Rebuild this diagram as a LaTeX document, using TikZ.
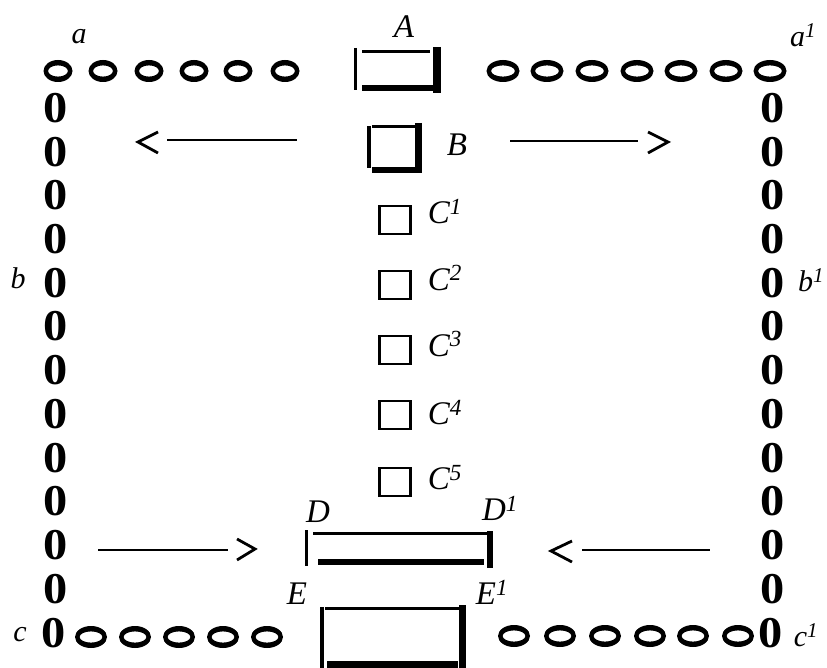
\documentclass[tikz,border=0pt]{standalone}
\usepackage{fontspec}
\setmainfont{Liberation Serif}
\newcommand\ovl[3]{\fill[even odd rule] (#1,#2) ellipse [x radius=#3, y radius=11] (#1,#2) ellipse [x radius=#3-4.6, y radius=5.6];}
\newcommand\zro{\scalebox{1.1}[1]{0}}
\begin{document}
\begin{tikzpicture}[x=1pt,y=-1pt,
  zero/.style={inner sep=0pt, font=\fontsize{44}{44}\selectfont\bfseries},
  lbl/.style={inner sep=0pt, font=\fontsize{33}{33}\selectfont\itshape},
  lbs/.style={inner sep=0pt, font=\fontsize{30}{30}\selectfont\itshape},
  thinbar/.style={line width=3pt},
  thickbar/.style={line width=6.5pt},
  arr/.style={line width=2.2pt},
  chev/.style={line width=2.8pt, line join=miter},
  sq/.style={draw, line width=2.6pt, minimum width=31pt, minimum height=28pt, inner sep=0pt}
]
\useasboundingbox (0,0) rectangle (827,668);

% columns of zeros
\foreach \i in {0,...,11} {
  \node[zero] (l\i) at (56,108+43.7*\i) {\zro};
  \node[zero] (r\i) at (773,108+43.7*\i) {\zro};
}
\node[zero] (lc) at (54,633) {\zro};
\node[zero] (rc) at (771,633) {\zro};

% rows of ovals
\foreach \x in {58,103,149,194,238,285} {\ovl{\x}{71}{14.5}}
\foreach \x in {503,547,592,637,681,726,770} {\ovl{\x}{71}{16.5}}
\foreach \x in {91,135,179,223,267} {\ovl{\x}{637}{16}}
\foreach \x in {514,560,605,650,693,738} {\ovl{\x}{636}{16}}

% corner labels
\node[lbs] (la) at (79,37) {a};
\node[lbs] (la1) at (803,35) {a\textsuperscript{1}};
\node[lbs] (lb) at (18,278) {b};
\node[lbs] (lb1) at (811,280) {b\textsuperscript{1}};
\node[lbs] (lcc) at (20,635) {c};
\node[lbs] (lc1) at (806,635) {c\textsuperscript{1}};

% A
\node[lbl] (tA) at (404,27) {A};
\draw[thinbar] (355,48) -- (355,90);
\draw[thinbar] (362,52) -- (430,52);
\draw[thickbar] (362,88) -- (433,88);
\draw[line width=7.5pt] (437,47) -- (437,93);

% B
\node[lbl] (tB) at (457,145) {B};
\draw[line width=4pt] (369,126) -- (369,168);
\draw[thinbar] (372,127) -- (415,127);
\draw[line width=7pt] (418,123) -- (418,173);
\draw[thickbar] (372,170) -- (416,170);

% C squares
\foreach \i/\y/\ly in {1/220/212,2/285/278,3/350/344,4/415/413,5/482/478} {
  \node[sq] (c\i) at (395,\y) {};
  \node[lbl] (tc\i) at (445,\ly) {C\textsuperscript{\i}};
}

% D
\node[lbl] (tD) at (318,512) {D};
\node[lbl] (tD1) at (500,508) {D\textsuperscript{1}};
\draw[thinbar] (306,530) -- (306,566);
\draw[thinbar] (313,533) -- (492,533);
\draw[thickbar] (318,562) -- (484,562);
\draw[line width=6pt] (490,531) -- (490,568);

% E
\node[lbl] (tE) at (297,594) {E};
\node[lbl] (tE1) at (492,592) {E\textsuperscript{1}};
\draw[line width=3.5pt] (322,607) -- (322,668);
\draw[thinbar] (325,608) -- (460,608);
\draw[line width=7pt] (462,605) -- (462,668);
\draw[line width=7pt] (327,664) -- (458,664);

% arrows
\draw[arr] (167,140) -- (297,140);
\draw[chev] (158,132) -- (138,142) -- (158,153);
\draw[arr] (510,141) -- (638,141);
\draw[chev] (648,132) -- (668,142) -- (648,153);
\draw[arr] (98,550) -- (228,550);
\draw[chev] (237,539) -- (255,549) -- (237,560);
\draw[arr] (582,550) -- (710,550);
\draw[chev] (572,541) -- (551,551) -- (572,562);
\end{tikzpicture}
\end{document}
